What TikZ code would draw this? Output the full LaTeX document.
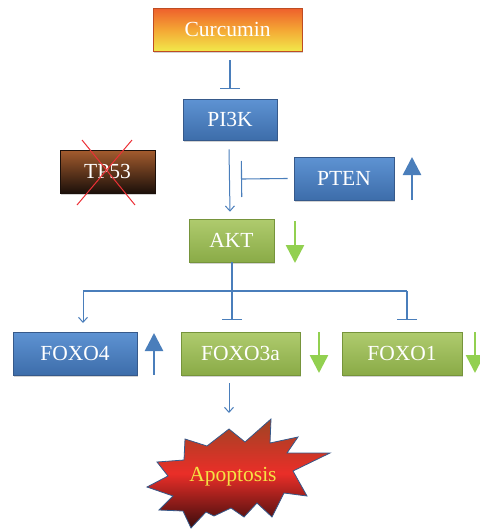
\documentclass[tikz,border=0pt]{standalone}
\usepackage{fontspec}
\setmainfont{Liberation Serif}
\usetikzlibrary{arrows.meta,shadows}
\definecolor{lineblue}{HTML}{4A7EBB}
\definecolor{boxblueT}{HTML}{5E93D3}
\definecolor{boxblueB}{HTML}{3D6DAA}
\definecolor{boxblueD}{HTML}{36598A}
\definecolor{greenT}{HTML}{AFCB6E}
\definecolor{greenB}{HTML}{8AAB47}
\definecolor{greenD}{HTML}{76943B}
\definecolor{arrgreen}{HTML}{92D050}
\definecolor{curT}{HTML}{EE5F2C}
\definecolor{curM}{HTML}{F4A634}
\definecolor{curB}{HTML}{F2E84A}
\definecolor{brownT}{HTML}{A45C2E}
\definecolor{brownB}{HTML}{1C100A}
\definecolor{xred}{HTML}{EC3036}
\definecolor{apoT}{HTML}{9E4424}
\definecolor{apoM}{HTML}{EA2E28}
\definecolor{apoB}{HTML}{3A0C0C}
\definecolor{apotext}{HTML}{F4E244}
\tikzset{
  basebox/.style={rectangle, text=white, font=\fontsize{21.5}{23}\selectfont,
    inner sep=0pt, line width=0.6pt,
    drop shadow={opacity=0.35, shadow xshift=1.2pt, shadow yshift=-1.5pt}},
  bluebox/.style={basebox, draw=boxblueD, top color=boxblueT, bottom color=boxblueB},
  greenbox/.style={basebox, draw=greenD, top color=greenT, bottom color=greenB},
  inh/.style={draw=lineblue, line width=1.1pt, -{Bar[width=20pt,line width=1.1pt]}},
  act/.style={draw=lineblue, line width=1pt, -{Straight Barb[length=5pt,width=9pt,line width=1pt]}},
  plain/.style={draw=lineblue, line width=1.1pt},
  fatblue/.style={draw=lineblue, fill=lineblue, line width=2.6pt, -{Triangle[length=18pt,width=18pt]}},
  fatgreen/.style={draw=arrgreen, fill=arrgreen, line width=2.6pt, -{Triangle[length=18pt,width=18pt]}}
}
\begin{document}
\begin{tikzpicture}[x=1pt,y=-1pt]
\useasboundingbox (0,0) rectangle (480,531);
% boxes
\node[basebox, draw=curT!80!black, top color=curT, bottom color=curB, middle color=curM,
  minimum width=149pt, minimum height=43pt] (cur) at (227.5,29.5) {Curcumin};
\node[bluebox, minimum width=94pt, minimum height=41pt] (pi) at (230,119.5) {PI3K};
\node[basebox, draw=brownB, top color=brownT, bottom color=brownB,
  minimum width=95pt, minimum height=43pt] (tp) at (107.5,171.5) {TP53};
\node[bluebox, minimum width=100pt, minimum height=43pt] (pten) at (344,178.5) {PTEN};
\node[greenbox, minimum width=85pt, minimum height=43pt] (akt) at (231.5,240.5) {AKT};
\node[bluebox, minimum width=124pt, minimum height=43pt] (f4) at (75,353.5) {FOXO4};
\node[greenbox, minimum width=119pt, minimum height=43pt] (f3) at (240.5,353.5) {FOXO3a};
\node[greenbox, minimum width=120pt, minimum height=43pt] (f1) at (402,353.5) {FOXO1};
% red cross over TP53
\draw[xred, line width=1pt] (77,205) -- (132,140);
\draw[xred, line width=1pt] (82,140) -- (135,205);
% connectors
\draw[inh] ([yshift=-9pt]cur.south -| pi.north) -- ([yshift=10pt]pi.north);
\draw[act] ([xshift=-1pt,yshift=-9pt]pi.south) -- ([xshift=-1.5pt,yshift=7pt]akt.north);
\draw[inh, -{Bar[width=36pt,line width=1.1pt]}] ([xshift=-6pt]pten.west) -- (241,179);
\coordinate (br) at (232,291);
\coordinate (brL) at (83,291);
\coordinate (brR) at (407,291);
\draw[plain] ([xshift=0.5pt]akt.south) -- (br);
\draw[plain] (brL) -- (brR);
\draw[act] (brL) -- (83,323);
\draw[inh] (br) -- (232,320);
\draw[inh] (brR) -- (407,320);
\draw[act] ([xshift=-11.5pt,yshift=-8pt]f3.south) -- (229,413);
% up/down indicators
\draw[fatblue] (412,200) -- (412,157);
\draw[fatgreen] (295,221) -- (295,263);
\draw[fatblue] (154,374.5) -- (154,333);
\draw[fatgreen] (319,332) -- (319,373);
\draw[fatgreen] (475,332) -- (475,373);
% apoptosis starburst
\path[draw=boxblueD, line width=0.8pt, top color=apoT, bottom color=apoB, middle color=apoM]
  (229,429) -- (245,442) -- (271,419) -- (270,443) -- (298,437) -- (287,453)
  -- (330,453) -- (293,471) -- (307,496) -- (284,493) -- (272,517) -- (257,503)
  -- (244,517) -- (231,508) -- (214,516) -- (206,512) -- (191,528) -- (183,511)
  -- (159,510) -- (173,496) -- (147,487) -- (168,476) -- (157,462) -- (184,460)
  -- (185,439) -- (207,446) -- cycle;
\node[text=apotext, font=\fontsize{21.5}{23}\selectfont] (apo) at (233,477) {Apoptosis};
\end{tikzpicture}
\end{document}
